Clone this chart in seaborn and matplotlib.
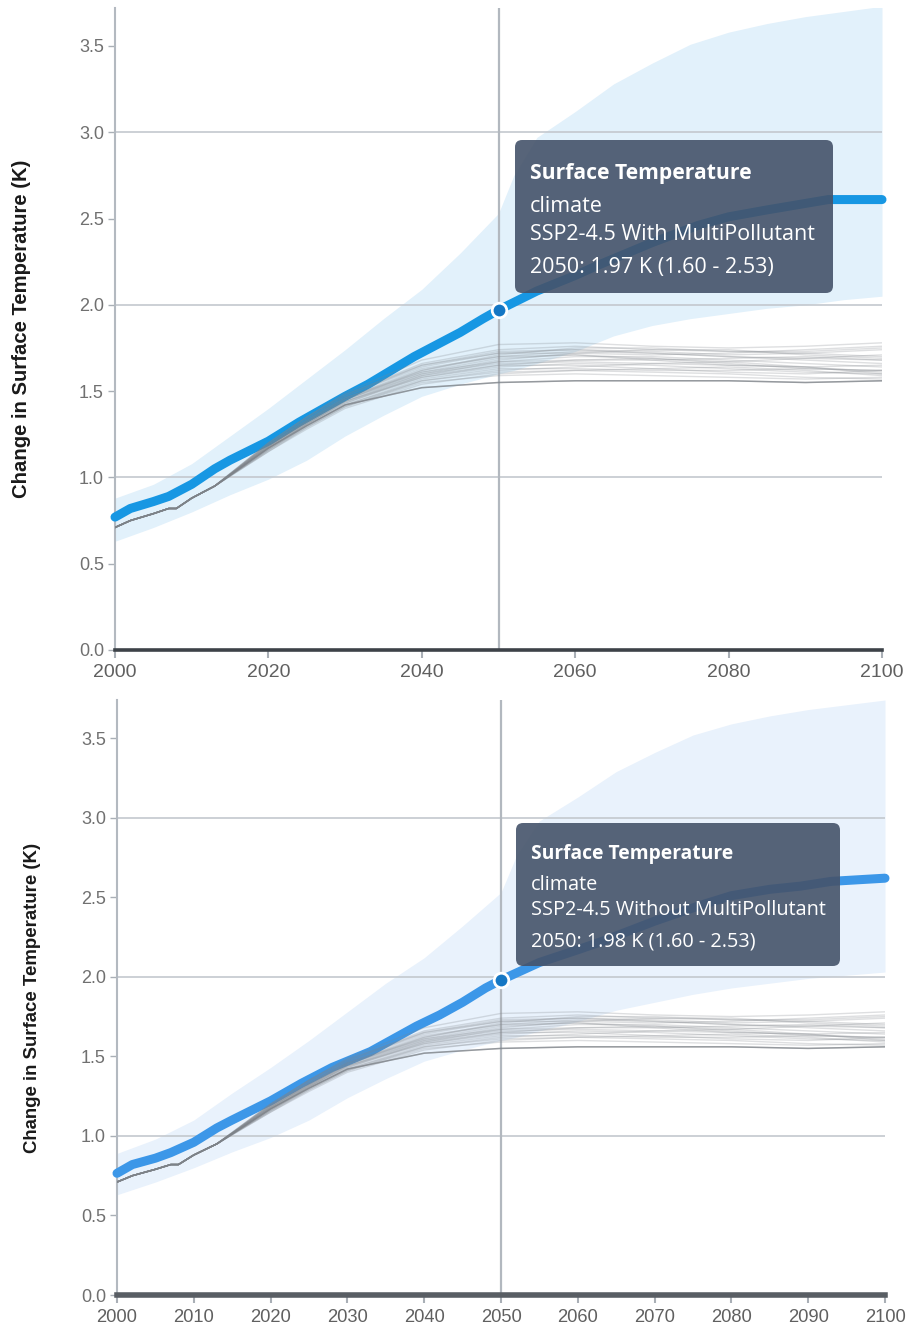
import numpy as np
import pandas as pd
import seaborn as sns
import matplotlib.pyplot as plt
from matplotlib.patches import FancyBboxPatch

# ---------------------------------------------------------------- data
mean_years = [2000, 2002, 2005, 2007, 2010, 2013, 2015, 2020, 2024, 2028, 2030,
              2033, 2036, 2039, 2042, 2045, 2048, 2050, 2055, 2060, 2063, 2070,
              2076, 2080, 2085, 2089, 2093, 2100]
mean_with = [0.77, 0.82, 0.86, 0.89, 0.96, 1.05, 1.10, 1.21, 1.32, 1.42, 1.47,
             1.54, 1.62, 1.70, 1.77, 1.84, 1.92, 1.97, 2.08, 2.17, 2.23, 2.36,
             2.46, 2.51, 2.55, 2.58, 2.61, 2.61]
mean_without = [0.765, 0.82, 0.86, 0.895, 0.96, 1.05, 1.10, 1.22, 1.33, 1.43, 1.47,
                1.53, 1.61, 1.69, 1.76, 1.84, 1.93, 1.98, 2.09, 2.17, 2.22, 2.35,
                2.45, 2.51, 2.55, 2.57, 2.60, 2.62]

band_years = [2000, 2005, 2010, 2015, 2020, 2025, 2030, 2035, 2040, 2045, 2050,
              2052, 2055, 2060, 2065, 2070, 2075, 2080, 2085, 2090, 2095, 2100]
upper_with = [0.88, 0.96, 1.08, 1.24, 1.40, 1.57, 1.74, 1.92, 2.09, 2.30, 2.53,
              2.75, 2.97, 3.12, 3.28, 3.40, 3.51, 3.58, 3.63, 3.67, 3.70, 3.73]
lower_with = [0.63, 0.71, 0.80, 0.90, 0.99, 1.10, 1.24, 1.36, 1.47, 1.54, 1.60,
              1.62, 1.66, 1.73, 1.82, 1.88, 1.92, 1.95, 1.98, 2.00, 2.03, 2.05]
upper_without = [0.89, 0.98, 1.10, 1.27, 1.43, 1.60, 1.78, 1.96, 2.12, 2.32, 2.53,
                 2.76, 2.98, 3.13, 3.29, 3.41, 3.52, 3.59, 3.64, 3.68, 3.71, 3.74]
lower_without = [0.63, 0.71, 0.80, 0.90, 0.99, 1.10, 1.24, 1.36, 1.47, 1.54, 1.60,
                 1.62, 1.66, 1.72, 1.79, 1.84, 1.89, 1.93, 1.96, 1.99, 2.01, 2.03]

# shared historical segment of the ensemble members
hist_years = [2000, 2002, 2005, 2007, 2008, 2010, 2013]
hist_vals = [0.71, 0.75, 0.79, 0.82, 0.82, 0.88, 0.95]
# projected part of each ensemble member
member_years = [2020, 2025, 2030, 2040, 2050, 2060, 2070, 2080, 2090, 2100]
members = [
    [1.17, 1.30, 1.42, 1.52, 1.55, 1.56, 1.56, 1.56, 1.55, 1.56],
    [1.19, 1.33, 1.46, 1.62, 1.70, 1.73, 1.72, 1.70, 1.68, 1.66],
    [1.20, 1.35, 1.48, 1.66, 1.74, 1.76, 1.74, 1.73, 1.72, 1.70],
    [1.18, 1.32, 1.44, 1.58, 1.64, 1.66, 1.65, 1.63, 1.61, 1.60],
    [1.16, 1.29, 1.41, 1.56, 1.62, 1.64, 1.66, 1.67, 1.69, 1.71],
    [1.19, 1.34, 1.47, 1.64, 1.72, 1.74, 1.73, 1.71, 1.72, 1.74],
    [1.18, 1.32, 1.45, 1.61, 1.69, 1.71, 1.69, 1.66, 1.63, 1.62],
    [1.15, 1.28, 1.40, 1.54, 1.60, 1.62, 1.61, 1.60, 1.58, 1.57],
    [1.20, 1.35, 1.49, 1.68, 1.77, 1.78, 1.76, 1.75, 1.76, 1.78],
    [1.17, 1.31, 1.43, 1.59, 1.67, 1.70, 1.70, 1.68, 1.66, 1.64],
    [1.18, 1.33, 1.46, 1.63, 1.70, 1.71, 1.68, 1.65, 1.64, 1.65],
    [1.16, 1.30, 1.42, 1.57, 1.63, 1.63, 1.62, 1.62, 1.63, 1.62],
    [1.19, 1.34, 1.47, 1.65, 1.73, 1.74, 1.72, 1.70, 1.69, 1.68],
    [1.17, 1.31, 1.44, 1.60, 1.66, 1.67, 1.66, 1.65, 1.64, 1.60],
    [1.18, 1.32, 1.45, 1.62, 1.71, 1.75, 1.75, 1.73, 1.73, 1.75],
    [1.15, 1.29, 1.41, 1.55, 1.59, 1.60, 1.59, 1.58, 1.57, 1.58],
    [1.19, 1.33, 1.46, 1.61, 1.67, 1.68, 1.68, 1.69, 1.70, 1.68],
    [1.17, 1.31, 1.43, 1.58, 1.65, 1.68, 1.69, 1.67, 1.64, 1.61],
    [1.20, 1.35, 1.48, 1.65, 1.72, 1.72, 1.71, 1.72, 1.74, 1.76],
    [1.16, 1.30, 1.42, 1.56, 1.61, 1.62, 1.63, 1.64, 1.62, 1.59],
    [1.18, 1.32, 1.45, 1.60, 1.68, 1.72, 1.74, 1.74, 1.71, 1.69],
    [1.17, 1.31, 1.44, 1.59, 1.65, 1.65, 1.63, 1.61, 1.60, 1.62],
]

y_ticks = [0.0, 0.5, 1.0, 1.5, 2.0, 2.5, 3.0, 3.5]
grid_levels = [1.0, 2.0, 3.0]
x_ticks_top = [2000, 2020, 2040, 2060, 2080, 2100]
x_ticks_bottom = [2000, 2010, 2020, 2030, 2040, 2050, 2060, 2070, 2080, 2090, 2100]

focus_year = 2050
focus_with = (1.97, 1.60, 2.53)
focus_without = (1.98, 1.60, 2.53)
title = "Surface Temperature"
subtitle = "climate"
scenario_with = "SSP2-4.5 With MultiPollutant"
scenario_without = "SSP2-4.5 Without MultiPollutant"
ylabel = "Change in Surface Temperature (K)"

# ---------------------------------------------------------------- style
sns.set_theme(style="white")
plt.rcParams['font.family'] = ['Liberation Sans', 'DejaVu Sans']

W, H = 906, 1325
fig = plt.figure(figsize=(W / 100, H / 100), dpi=100)


def fx(x):
    return x / W


def fy(y):
    return 1 - y / H


ens_rows = []
for i, m in enumerate(members):
    for yr, v in zip(hist_years + member_years, hist_vals + m):
        ens_rows.append({"year": yr, "value": v, "member": i})
ens_df = pd.DataFrame(ens_rows)


def draw_panel(ax, mean_vals, upper, lower, focus, line_color, band_color,
               x_ticks, base_color, base_lw, ylim_top, ylab_size, ylab_x,
               xlab_size):
    ax.set_xlim(2000, 2100)
    ax.set_ylim(0, ylim_top)

    ax.fill_between(band_years, lower, upper, color=band_color, lw=0, zorder=1)
    for g in grid_levels:
        ax.axhline(g, color='#c3c8ce', lw=1.2, zorder=1.5)
    ax.axvline(focus_year, color='#b2b8bf', lw=1.6, zorder=1.6)

    sns.lineplot(x=mean_years, y=mean_vals, ax=ax, color=line_color, lw=6.5,
                 zorder=3)
    ln = ax.lines[-1]
    ln.set_solid_capstyle('round')
    ln.set_solid_joinstyle('round')
    ln.set_clip_on(False)

    sns.lineplot(data=ens_df, x='year', y='value', units='member',
                 estimator=None, color='#80858b', alpha=0.26, lw=1.0,
                 ax=ax, legend=False, zorder=4)
    sns.lineplot(x=hist_years + member_years, y=hist_vals + members[0],
                 ax=ax, color='#7d8288', alpha=0.75, lw=1.1, zorder=4)

    ax.plot([focus_year], [focus[0]], marker='o', ms=10.5,
            mfc='#1577c4', mec='white', mew=2, zorder=6, clip_on=False)

    ax.set_yticks(y_ticks)
    ax.set_yticklabels([f"{t:.1f}" for t in y_ticks])
    ax.set_xticks(x_ticks)
    ax.set_xticklabels([str(t) for t in x_ticks])
    ax.tick_params(axis='y', length=5, width=1, color='#a9afb6',
                   labelcolor='#707070', labelsize=13, pad=3, left=True)
    ax.tick_params(axis='x', length=6, width=1.5, color='#a9afb6',
                   labelcolor='#606060', labelsize=xlab_size, pad=4,
                   bottom=True)
    ax.set_xlabel('')
    ax.set_ylabel(ylabel, fontsize=ylab_size, fontweight='bold',
                  color='#1a1a1a')
    ax.yaxis.set_label_coords(ylab_x, 0.5)

    for s in ('top', 'right'):
        ax.spines[s].set_visible(False)
    ax.spines['left'].set_color('#b3b9c0')
    ax.spines['left'].set_linewidth(1.5)
    ax.spines['bottom'].set_color(base_color)
    ax.spines['bottom'].set_linewidth(base_lw)
    ax.spines['bottom'].set_zorder(7)
    ax.set_facecolor('white')


def draw_tooltip(x0, y0, x1, y1, lines, sizes, weights, y_centers):
    box = FancyBboxPatch((fx(x0), fy(y1)), fx(x1 - x0), (y1 - y0) / H,
                         boxstyle="round,pad=0,rounding_size=0.0078",
                         mutation_aspect=W / H, transform=fig.transFigure,
                         facecolor='#45536a', edgecolor='none', alpha=0.9,
                         zorder=20)
    fig.patches.append(box)
    for txt, sz, wt, yc in zip(lines, sizes, weights, y_centers):
        fig.text(fx(x0 + 15), fy(yc), txt, fontsize=sz, fontweight=wt,
                 color='white', ha='left', va='center',
                 family=['Open Sans', 'DejaVu Sans'], zorder=21)


ax1 = fig.add_axes([fx(115), fy(650), (882 - 115) / W, (650 - 8) / H])
draw_panel(ax1, mean_with, upper_with, lower_with, focus_with, '#1797e3',
           '#e2f1fb', x_ticks_top, '#3d4248', 2.6, 3.72, 14.6, -0.110, 14)

ax2 = fig.add_axes([fx(117), fy(1295), (885 - 117) / W, (1295 - 700) / H])
draw_panel(ax2, mean_without, upper_without, lower_without, focus_without,
           '#3c97e8', '#e9f2fc', x_ticks_bottom, '#595e64', 4.0, 3.74, 13.4,
           -0.099, 13.2)

v, lo, hi = focus_with
draw_tooltip(515, 140, 833, 293,
             [title, subtitle, scenario_with,
              f"{focus_year}: {v:.2f} K ({lo:.2f} - {hi:.2f})"],
             [15.2, 15.5, 15.5, 15.5], ['bold', 'normal', 'normal', 'normal'],
             [174, 207, 235, 268])
v, lo, hi = focus_without
draw_tooltip(516, 823, 840, 966,
             [title, subtitle, scenario_without,
              f"{focus_year}: {v:.2f} K ({lo:.2f} - {hi:.2f})"],
             [13.9, 14.3, 14.3, 14.3], ['bold', 'normal', 'normal', 'normal'],
             [854, 885, 910, 941])

fig.savefig('out.png', dpi=100, facecolor='white')
